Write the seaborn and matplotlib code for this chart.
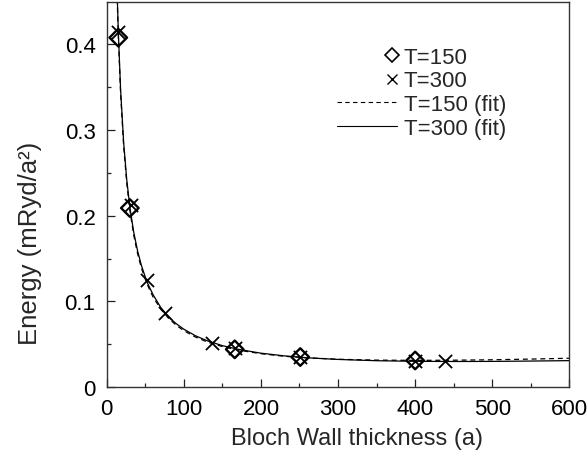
import numpy as np
import pandas as pd
import matplotlib
matplotlib.use("Agg")
import matplotlib.pyplot as plt
import seaborn as sns
from matplotlib.lines import Line2D
from matplotlib.legend_handler import HandlerLine2DCompound
from matplotlib.ticker import MultipleLocator

# ---- data ----
t150_x = [15, 30, 166, 251, 400]
t150_y = [0.408, 0.209, 0.044, 0.035, 0.031]

t300_x = [15, 31, 52, 76, 136, 166, 251, 400, 439]
t300_y = [0.414, 0.212, 0.125, 0.087, 0.051, 0.046, 0.035, 0.030, 0.030]

fit_x = [13.5, 15, 18, 22, 26, 30, 35, 40, 45, 52, 60, 70, 80, 90, 100, 115,
         130, 150, 170, 200, 230, 260, 300, 350, 400, 450, 500, 550, 600]
fit150_y = [0.4566, 0.411, 0.3429, 0.2808, 0.238, 0.2066, 0.1775, 0.1558, 0.1389,
            0.1208, 0.1053, 0.0911, 0.0804, 0.0722, 0.0658, 0.0584, 0.0527, 0.0472,
            0.0432, 0.0389, 0.0359, 0.0341, 0.0324, 0.0314, 0.0311, 0.0313, 0.0318,
            0.0326, 0.0336]
fit300_y = [0.462, 0.416, 0.347, 0.285, 0.242, 0.210, 0.181, 0.159, 0.142,
            0.123, 0.108, 0.093, 0.082, 0.074, 0.0675, 0.0599, 0.0541, 0.0483,
            0.0441, 0.0395, 0.0364, 0.0341, 0.0322, 0.0307, 0.0300, 0.0298, 0.0299,
            0.0303, 0.0308]

y_tick_labels = ["0", "0.1", "0.2", "0.3", "0.4"]
legend_labels = ["T=150", "T=300", "T=150 (fit)", "T=300 (fit)"]

sns.set_theme(style="ticks")
plt.rcParams['font.family'] = ['Liberation Sans', 'DejaVu Sans']

fig = plt.figure(figsize=(5.87, 4.60), dpi=100)
ax = fig.add_axes([0.1818, 0.1565, 0.970 - 0.1818, 0.9924 - 0.1565])

sns.lineplot(x=fit_x, y=fit150_y, ax=ax, color="black", lw=0.9,
             linestyle=(0, (4, 3)), sort=False)
sns.lineplot(x=fit_x, y=fit300_y, ax=ax, color="black", lw=0.9, sort=False)
sns.scatterplot(x=t150_x, y=t150_y, ax=ax, marker="D", s=80,
                facecolors="none", edgecolor="black", linewidth=1.7, zorder=3)
sns.scatterplot(x=t300_x, y=t300_y, ax=ax, marker="x", s=90,
                color="black", linewidth=1.3, zorder=3)

ax.set_xlim(0, 600)
ax.set_ylim(0, 0.449)
ax.xaxis.set_major_locator(MultipleLocator(100))
ax.xaxis.set_minor_locator(MultipleLocator(50))
ax.set_yticks([0, 0.1, 0.2, 0.3, 0.4])
ax.set_yticklabels(y_tick_labels)
ax.yaxis.set_minor_locator(MultipleLocator(0.05))

ax.tick_params(which="both", direction="in", top=False, right=False,
               colors="#222222", labelcolor="black", width=0.9)
ax.tick_params(which="major", length=6, labelsize=16, pad=8)
ax.tick_params(which="minor", length=3)
for s in ax.spines.values():
    s.set_color("#333333")
    s.set_linewidth(1.0)

ax.set_xlabel("Bloch Wall thickness (a)", fontsize=17)
ax.set_ylabel("Energy (mRyd/a²)", fontsize=18.5)
ax.xaxis.set_label_coords(0.541, -0.105)
ax.yaxis.set_label_coords(-0.14, 0.375)


class RightMarker(HandlerLine2DCompound):
    def get_xdata(self, legend, xdescent, ydescent, width, height, fontsize):
        xd, xm = super().get_xdata(legend, xdescent, ydescent, width, height, fontsize)
        return xd, np.array([-xdescent + width - 4])


handles = [
    Line2D([], [], marker="D", markersize=7, markerfacecolor="none",
           markeredgecolor="black", markeredgewidth=1.2, linestyle="none"),
    Line2D([], [], marker="x", markersize=7, color="black",
           markeredgewidth=1.0, linestyle="none"),
    Line2D([], [], color="black", lw=0.8, linestyle=(0, (4, 3))),
    Line2D([], [], color="black", lw=0.8),
]
ax.legend(handles, legend_labels, loc="upper left",
          bbox_to_anchor=(0.498, 0.885), frameon=False, fontsize=16,
          handlelength=2.7, handletextpad=0.3, labelspacing=0.12,
          borderpad=0, borderaxespad=0,
          handler_map={handles[0]: RightMarker(numpoints=1),
                       handles[1]: RightMarker(numpoints=1)})

fig.savefig("out.png", dpi=100)
